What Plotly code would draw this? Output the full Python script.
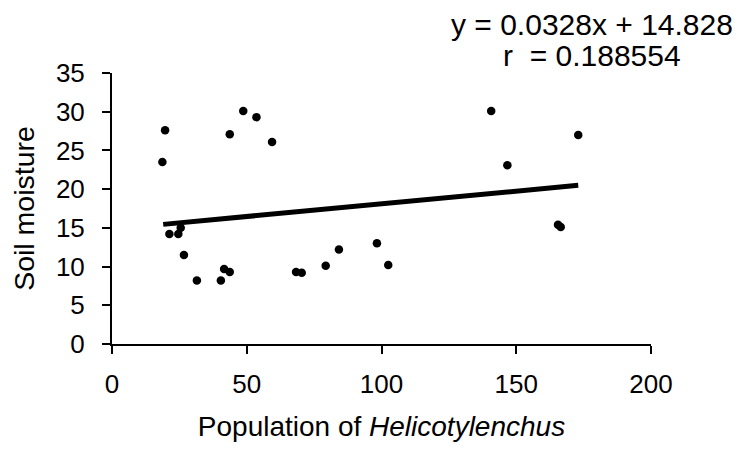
import plotly.graph_objects as go

# Scatter data
population = [18.7, 19.7, 21.3, 24.6, 25.5, 26.7, 31.5, 40.4, 41.6, 43.7, 43.7, 48.7, 53.6,
              59.4, 68.3, 70.4, 79.3, 84.2, 98.3, 102.5, 140.7, 146.7, 165.5, 166.5, 173.0]
moisture = [23.5, 27.6, 14.2, 14.2, 15.0, 11.5, 8.2, 8.2, 9.7, 9.3, 27.1, 30.1, 29.3,
            26.1, 9.3, 9.2, 10.1, 12.2, 13.0, 10.2, 30.1, 23.1, 15.4, 15.1, 27.0]

# Trend line endpoints (y = 0.0328x + 14.828)
fit_x = [19, 173]
fit_y = [15.45, 20.50]

x_ticks = [0, 50, 100, 150, 200]
y_ticks = [0, 5, 10, 15, 20, 25, 30, 35]

equation_text = "y = 0.0328x + 14.828"
r_text = "r\u00a0 = 0.188554"

FONT = "Arial, 'Liberation Sans', Helvetica, sans-serif"

# page body has an 8px margin, so the figure is sized to fit inside the window
W, H = 733, 447
L, R, T, B = 104, 90, 65, 111

fig = go.Figure()
fig.add_trace(go.Scatter(x=population, y=moisture, mode="markers",
                         marker=dict(color="black", size=8.5), showlegend=False))
fig.add_trace(go.Scatter(x=fit_x, y=fit_y, mode="lines",
                         line=dict(color="black", width=5), showlegend=False))

fig.update_layout(
    width=W, height=H,
    margin=dict(l=L, r=R, t=T, b=B, autoexpand=False),
    paper_bgcolor="white", plot_bgcolor="white",
    font=dict(family=FONT, size=26, color="black"),
    xaxis=dict(range=[0, 200], tickvals=x_ticks, ticks="outside", ticklen=8, tickwidth=2,
               tickcolor="black", showline=True, linecolor="black", linewidth=2,
               showgrid=False, zeroline=False, ticklabelstandoff=8, automargin=False,
               tickfont=dict(size=26),
               title=dict(text="Population of <i>Helicotylenchus</i>", standoff=18,
                          font=dict(size=28))),
    yaxis=dict(range=[0, 35], tickvals=y_ticks, ticks="outside", ticklen=8, tickwidth=2,
               tickcolor="black", showline=True, linecolor="black", linewidth=2,
               showgrid=False, zeroline=False, ticklabelstandoff=12, automargin=False,
               tickfont=dict(size=26),
               title=dict(text="Soil moisture", standoff=25, font=dict(size=28.5))),
)

plot_w = W - L - R
plot_h = H - T - B


def px_to_paper(px, py):
    # px, py are screen coordinates in the 741x455 window
    return (px - 8 - L) / plot_w, (H - B - (py - 8)) / plot_h


ex, ey = px_to_paper(592, 25)
rx, ry = px_to_paper(592, 55)
fig.add_annotation(x=ex, y=ey, xref="paper", yref="paper", text=equation_text,
                   showarrow=False, xanchor="center", yanchor="middle",
                   font=dict(size=30))
fig.add_annotation(x=rx, y=ry, xref="paper", yref="paper", text=r_text,
                   showarrow=False, xanchor="center", yanchor="middle",
                   font=dict(size=30))

fig.write_html("out.html")
